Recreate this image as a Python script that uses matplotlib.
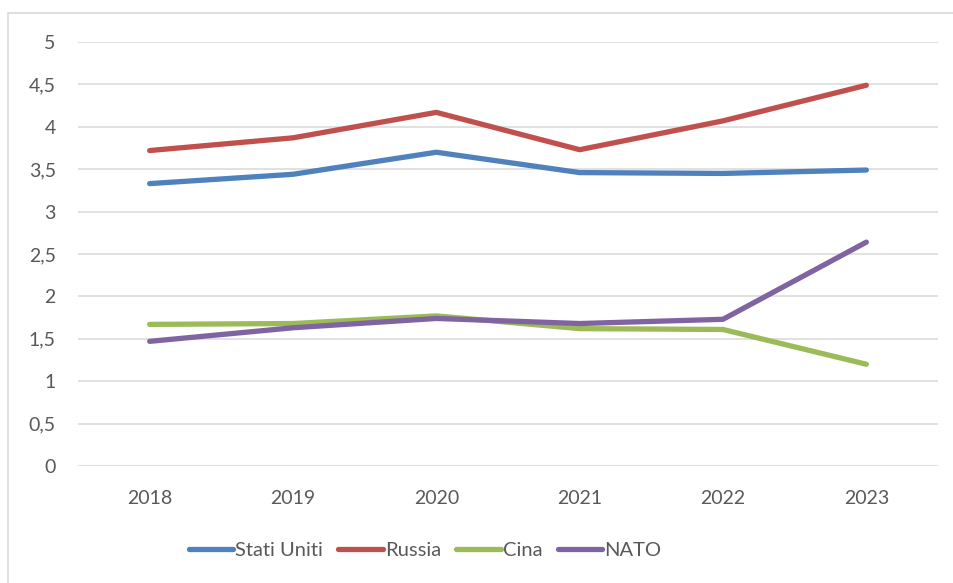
import matplotlib.pyplot as plt
from matplotlib.patches import Rectangle
from matplotlib.ticker import FuncFormatter

anni = ['2018', '2019', '2020', '2021', '2022', '2023']
stati_uniti = [3.33, 3.44, 3.70, 3.46, 3.45, 3.49]
russia = [3.72, 3.87, 4.17, 3.73, 4.07, 4.49]
cina = [1.67, 1.68, 1.77, 1.62, 1.61, 1.20]
nato = [1.47, 1.63, 1.74, 1.68, 1.73, 2.64]

serie = [('Stati Uniti', stati_uniti, '#4F81BD'),
         ('Russia', russia, '#C0504D'),
         ('Cina', cina, '#9BBB59'),
         ('NATO', nato, '#8064A2')]

plt.rcParams['font.family'] = ['Lato', 'DejaVu Sans']

fig = plt.figure(figsize=(9.54, 5.83), dpi=100)
ax = fig.add_axes([78/954, 1-466/583, 860/954, 424/583])

# bordo del grafico (stile Excel)
fig.patches.append(Rectangle((8/954, -0.1), 1.2, 1.1-13/583, transform=fig.transFigure,
                             fill=False, edgecolor='#D9D9D9', linewidth=1.2))

x = range(len(anni))
for nome, valori, colore in serie:
    ax.plot(x, valori, color=colore, linewidth=3.8, solid_capstyle='round',
            solid_joinstyle='round', label=nome, zorder=3)

ax.set_xlim(-0.5, 5.5)
ax.set_ylim(0, 5)
ax.set_yticks([0, 0.5, 1, 1.5, 2, 2.5, 3, 3.5, 4, 4.5, 5])
ax.yaxis.set_major_formatter(FuncFormatter(lambda v, p: ('%g' % v).replace('.', ',')))
ax.set_xticks(list(x))
ax.set_xticklabels(anni)
ax.grid(axis='y', color='#D9D9D9', linewidth=1.1)
ax.set_axisbelow(True)
for s in ax.spines.values():
    s.set_visible(False)
ax.tick_params(axis='both', length=0, labelsize=14, labelcolor='#595959')
ax.tick_params(axis='y', pad=16)
ax.tick_params(axis='x', pad=17)

fig.legend(loc='center', bbox_to_anchor=(425/954, 1-550/583), ncol=4, frameon=False,
           fontsize=14.5, handlelength=2.2, handletextpad=0.12, columnspacing=0.75,
           labelcolor='#595959')

plt.savefig('out.png', dpi=100)
